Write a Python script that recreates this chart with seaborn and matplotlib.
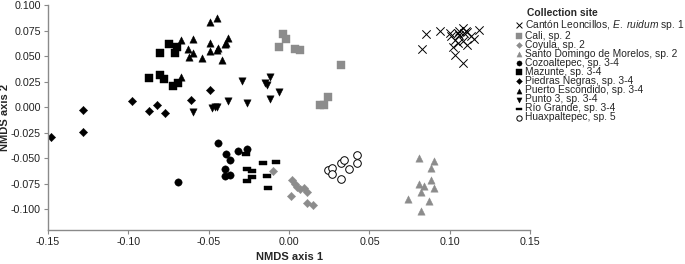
import numpy as np
import pandas as pd
import seaborn as sns
import matplotlib.pyplot as plt
from matplotlib.ticker import MultipleLocator, FormatStrFormatter

# NMDS scores, one pair of lists per collection site
canton_x = [0.085, 0.083, 0.094, 0.100, 0.101, 0.103, 0.105, 0.106, 0.108, 0.110, 0.109,
            0.111, 0.113, 0.115, 0.118, 0.102, 0.105, 0.108, 0.111, 0.103, 0.108, 0.106]
canton_y = [0.072, 0.057, 0.075, 0.073, 0.070, 0.066, 0.073, 0.075, 0.078, 0.075, 0.073,
            0.074, 0.070, 0.067, 0.076, 0.059, 0.063, 0.065, 0.061, 0.051, 0.043, 0.071]

cali_x = [-0.004, -0.002, -0.006, 0.004, 0.007, 0.032, 0.024, 0.022, 0.019]
cali_y = [0.072, 0.067, 0.059, 0.057, 0.056, 0.041, 0.010, 0.002, 0.002]

coyula_x = [-0.010, 0.002, 0.004, 0.005, 0.007, 0.009, 0.011, 0.001, 0.011, 0.015]
coyula_y = [-0.062, -0.071, -0.075, -0.078, -0.080, -0.079, -0.083, -0.087, -0.094, -0.096]

santo_x = [0.081, 0.090, 0.088, 0.088, 0.081, 0.084, 0.090, 0.082, 0.074, 0.087, 0.082]
santo_y = [-0.050, -0.053, -0.059, -0.071, -0.075, -0.077, -0.079, -0.083, -0.090, -0.092, -0.101]

cozo_x = [-0.044, -0.039, -0.037, -0.032, -0.026, -0.040, -0.040, -0.037, -0.069]
cozo_y = [-0.035, -0.046, -0.052, -0.043, -0.041, -0.060, -0.067, -0.066, -0.073]

mazunte_x = [-0.080, -0.075, -0.070, -0.071, -0.087, -0.080, -0.078, -0.072, -0.069]
mazunte_y = [0.053, 0.062, 0.059, 0.053, 0.029, 0.032, 0.028, 0.021, 0.024]

piedras_x = [-0.128, -0.128, -0.148, -0.098, -0.087, -0.082, -0.077, -0.061, -0.049]
piedras_y = [-0.003, -0.024, -0.029, 0.006, -0.004, 0.002, -0.006, 0.007, 0.017]

puerto_x = [-0.067, -0.060, -0.063, -0.060, -0.062, -0.054, -0.049, -0.049, -0.045,
            -0.049, -0.045, -0.044, -0.042, -0.040, -0.038, -0.039, -0.067]
puerto_y = [0.066, 0.067, 0.057, 0.053, 0.049, 0.048, 0.063, 0.083, 0.087,
            0.055, 0.056, 0.058, 0.046, 0.062, 0.068, 0.063, 0.030]

punto_x = [-0.060, -0.048, -0.046, -0.045, -0.038, -0.026, -0.029, -0.014, -0.015, -0.012, -0.012, -0.006]
punto_y = [-0.005, -0.001, 0.000, 0.000, 0.006, 0.004, 0.026, 0.022, 0.024, 0.030, 0.008, 0.015]

rio_x = [-0.027, -0.026, -0.023, -0.026, -0.023, -0.016, -0.014, -0.008, -0.013]
rio_y = [-0.046, -0.060, -0.062, -0.072, -0.068, -0.055, -0.067, -0.054, -0.079]

huax_x = [0.024, 0.027, 0.027, 0.032, 0.034, 0.037, 0.032, 0.042, 0.042]
huax_y = [-0.061, -0.059, -0.065, -0.055, -0.052, -0.060, -0.070, -0.047, -0.055]

site_labels = [
    "Cantón Leoncillos, $\\mathit{E.\\ ruidum}$ sp. 1",
    "Cali, sp. 2",
    "Coyula, sp. 2",
    "Santo Domingo de Morelos, sp. 2",
    "Cozoaltepec, sp. 3-4",
    "Mazunte, sp. 3-4",
    "Piedras Negras, sp. 3-4",
    "Puerto Escondido, sp. 3-4",
    "Punto 3, sp. 3-4",
    "Río Grande, sp. 3-4",
    "Huaxpaltepec, sp. 5",
]

GRAY = "#8c8c8c"
DASH = [(-1, -0.4), (1, -0.4), (1, 0.4), (-1, 0.4), (-1, -0.4)]

# marker, face colour, edge colour, size, line width
styles = [
    ("x", "black", "black", 36, 0.7),
    ("s", GRAY, GRAY, 30, 0.3),
    ("D", GRAY, GRAY, 18, 0.3),
    ("^", GRAY, GRAY, 28, 0.3),
    ("o", "black", "black", 28, 0.3),
    ("s", "black", "black", 30, 0.3),
    ("D", "black", "black", 18, 0.3),
    ("^", "black", "black", 28, 0.3),
    ("v", "black", "black", 28, 0.3),
    (DASH, "black", "black", 34, 0.3),
    ("o", "white", "black", 30, 0.7),
]

xs = [canton_x, cali_x, coyula_x, santo_x, cozo_x, mazunte_x, piedras_x, puerto_x, punto_x, rio_x, huax_x]
ys = [canton_y, cali_y, coyula_y, santo_y, cozo_y, mazunte_y, piedras_y, puerto_y, punto_y, rio_y, huax_y]

df = pd.concat(
    [pd.DataFrame({"x": x, "y": y, "site": lab}) for x, y, lab in zip(xs, ys, site_labels)],
    ignore_index=True,
)

sns.set_style("ticks")
plt.rcParams["font.family"] = ["Liberation Sans", "DejaVu Sans"]
plt.rcParams["mathtext.fontset"] = "custom"
plt.rcParams["mathtext.rm"] = "Liberation Sans"
plt.rcParams["mathtext.it"] = "Liberation Sans:italic"
plt.rcParams["axes.unicode_minus"] = False

fig = plt.figure(figsize=(6.85, 2.64), dpi=100)
ax = fig.add_axes([0.070, 0.129, 0.704, 0.852])

for lab, (mk, fc, ec, s, lw) in zip(site_labels, styles):
    sub = df[df["site"] == lab]
    if mk == "x":
        sns.scatterplot(data=sub, x="x", y="y", ax=ax, marker=mk, color=fc,
                        s=s, linewidth=lw, label=lab)
    else:
        sns.scatterplot(data=sub, x="x", y="y", ax=ax, marker=mk, color=fc,
                        edgecolor=ec, s=s, linewidth=lw, label=lab)

ax.set_xlim(-0.15, 0.15)
ax.set_ylim(-0.12, 0.1)
ax.xaxis.set_major_locator(MultipleLocator(0.05))
ax.yaxis.set_major_locator(MultipleLocator(0.025))
ax.xaxis.set_major_formatter(FormatStrFormatter("%.2f"))
ax.yaxis.set_major_formatter(FormatStrFormatter("%.3f"))

sns.despine(ax=ax)
for sp in ["left", "bottom"]:
    ax.spines[sp].set_color("#8a8a8a")
    ax.spines[sp].set_linewidth(1.0)
ax.tick_params(axis="both", direction="out", length=3, width=0.8, color="#8a8a8a",
               labelsize=7.7, labelcolor="#222222", pad=2)

ax.set_xlabel("NMDS axis 1", fontsize=8, fontweight="bold", labelpad=4)
ax.set_ylabel("NMDS axis 2", fontsize=8, fontweight="bold", labelpad=0.5)

fig.text(0.769, 0.950, "Collection site", fontsize=7.4, fontweight="bold", va="center", ha="left")
ax.legend(loc="upper left", bbox_to_anchor=(0.753, 0.933), bbox_transform=fig.transFigure,
          frameon=False, fontsize=7.4, markerscale=0.7, handlelength=0.6, handletextpad=0.3,
          labelspacing=-0.09, borderaxespad=0, borderpad=0)

fig.savefig("out.png", dpi=100)
